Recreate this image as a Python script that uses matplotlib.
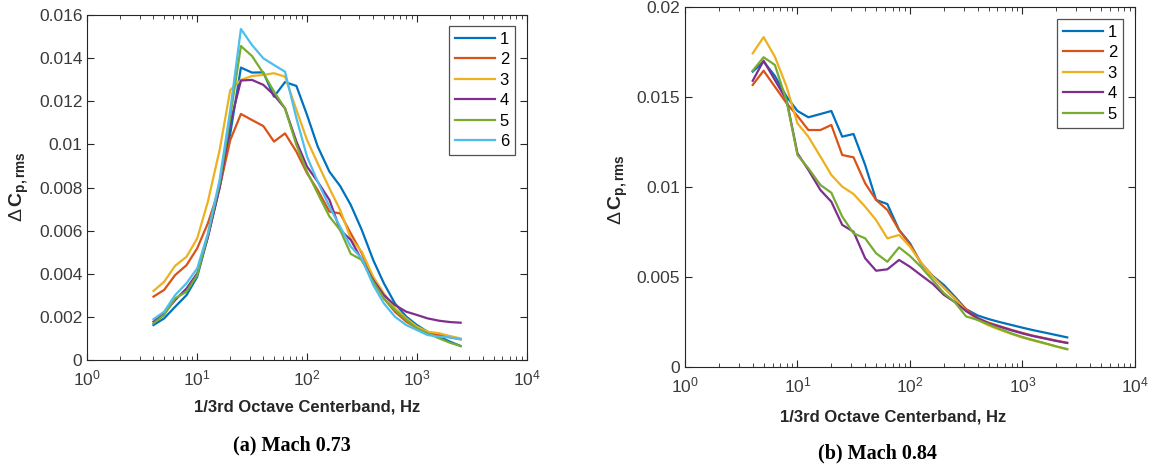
import matplotlib
matplotlib.use("Agg")
import matplotlib.pyplot as plt
import numpy as np
from matplotlib.ticker import LogLocator, NullFormatter, FixedLocator

plt.rcParams['font.family'] = ['Liberation Sans', 'DejaVu Sans']
plt.rcParams['mathtext.fontset'] = 'custom'
plt.rcParams['mathtext.rm'] = 'Liberation Sans'
plt.rcParams['mathtext.bf'] = 'Liberation Sans:bold'
plt.rcParams['mathtext.it'] = 'Liberation Sans:italic'
plt.rcParams['mathtext.default'] = 'regular'

freq = [4, 5, 6.3, 8, 10, 12.5, 16, 20, 25, 31.5, 40, 50, 63, 80, 100, 125, 160,
        200, 250, 315, 400, 500, 630, 800, 1000, 1250, 1600, 2000, 2500]

# (a) Mach 0.73
a1 = [0.00162, 0.00193, 0.00247, 0.00301, 0.00386, 0.0057, 0.0080, 0.0105, 0.01356, 0.01333,
      0.01334, 0.01221, 0.01289, 0.01271, 0.01136, 0.0099, 0.00873, 0.00807, 0.00719, 0.00603,
      0.00464, 0.00356, 0.00263, 0.00201, 0.00162, 0.00131, 0.00108, 0.00085, 0.00065]
a2 = [0.00294, 0.00325, 0.00394, 0.0044, 0.00518, 0.00634, 0.0080, 0.0102, 0.01141, 0.01113,
      0.01085, 0.01013, 0.01051, 0.00966, 0.00866, 0.00788, 0.00688, 0.0068, 0.00587, 0.00495,
      0.00371, 0.00286, 0.00224, 0.00178, 0.00147, 0.00124, 0.00116, 0.00105, 0.00096]
a3 = [0.0032, 0.00363, 0.00437, 0.00479, 0.00564, 0.00734, 0.00974, 0.01252, 0.01299, 0.01317,
      0.01322, 0.0133, 0.01314, 0.0116, 0.0102, 0.00912, 0.00796, 0.00696, 0.00564, 0.00502,
      0.00386, 0.00309, 0.0024, 0.00193, 0.00155, 0.00131, 0.00124, 0.00111, 0.0010]
a4 = [0.00178, 0.00216, 0.00278, 0.00332, 0.00402, 0.0057, 0.0080, 0.01098, 0.01296, 0.01299,
      0.01276, 0.01229, 0.01167, 0.01013, 0.00897, 0.00827, 0.00742, 0.00603, 0.00557, 0.00464,
      0.00371, 0.00301, 0.00255, 0.00224, 0.00209, 0.00193, 0.00182, 0.00176, 0.00173]
a5 = [0.0017, 0.00209, 0.00286, 0.00317, 0.00394, 0.0058, 0.0082, 0.01129, 0.01456, 0.0141,
      0.0133, 0.01245, 0.01167, 0.00997, 0.00873, 0.00773, 0.00665, 0.00603, 0.00492, 0.00464,
      0.00363, 0.00286, 0.00232, 0.00186, 0.00147, 0.00124, 0.0010, 0.0008, 0.00065]
a6 = [0.00189, 0.00224, 0.00301, 0.00356, 0.00425, 0.00587, 0.00835, 0.0116, 0.01535, 0.01461,
      0.01399, 0.01368, 0.01337, 0.01121, 0.00943, 0.00827, 0.00711, 0.00618, 0.00526, 0.00471,
      0.00348, 0.00263, 0.00201, 0.00162, 0.00139, 0.00116, 0.00108, 0.00105, 0.00096]

# (b) Mach 0.84
b1 = [0.01642, 0.01698, 0.01618, 0.01503, 0.01423, 0.01388, 0.01406, 0.01423, 0.0128, 0.01295,
      0.01122, 0.00928, 0.00905, 0.00761, 0.00687, 0.00575, 0.00504, 0.00455, 0.0039, 0.0032,
      0.00285, 0.00265, 0.00248, 0.00232, 0.00217, 0.00203, 0.00189, 0.00176, 0.00163]
b2 = [0.01568, 0.01647, 0.01558, 0.01466, 0.01395, 0.01317, 0.01317, 0.01345, 0.01178, 0.01165,
      0.0102, 0.00928, 0.00872, 0.0076, 0.0068, 0.0058, 0.0050, 0.0044, 0.0038, 0.0032,
      0.0027, 0.00245, 0.00225, 0.00205, 0.00188, 0.00172, 0.00158, 0.00145, 0.00133]
b3 = [0.01744, 0.01834, 0.01725, 0.01558, 0.01354, 0.0128, 0.01169, 0.01067, 0.01002, 0.00961,
      0.0089, 0.00816, 0.00714, 0.00733, 0.00668, 0.0058, 0.0050, 0.0044, 0.0038, 0.0031,
      0.0026, 0.0023, 0.00205, 0.00182, 0.00162, 0.00145, 0.00128, 0.00112, 0.00098]
b4 = [0.01591, 0.01703, 0.01595, 0.01484, 0.01187, 0.01095, 0.00983, 0.00918, 0.00789, 0.00751,
      0.00603, 0.00534, 0.00542, 0.00594, 0.00556, 0.0051, 0.0046, 0.0040, 0.0036, 0.0031,
      0.0027, 0.0024, 0.00222, 0.00202, 0.00185, 0.0017, 0.00156, 0.00143, 0.00132]
b5 = [0.01647, 0.01722, 0.01679, 0.0148, 0.01178, 0.01104, 0.01011, 0.00968, 0.00835, 0.00742,
      0.00714, 0.00631, 0.00584, 0.00664, 0.00616, 0.00556, 0.0048, 0.0041, 0.0036, 0.0028,
      0.0026, 0.00235, 0.0021, 0.00185, 0.00165, 0.00148, 0.0013, 0.00113, 0.00097]

series_a = [a1, a2, a3, a4, a5, a6]
series_b = [b1, b2, b3, b4, b5]
labels_a = ['1', '2', '3', '4', '5', '6']
labels_b = ['1', '2', '3', '4', '5']
yticks_a = [0, 0.002, 0.004, 0.006, 0.008, 0.01, 0.012, 0.014, 0.016]
yticks_b = [0, 0.005, 0.01, 0.015, 0.02]
yticklabels_a = ['0', '0.002', '0.004', '0.006', '0.008', '0.01', '0.012', '0.014', '0.016']
yticklabels_b = ['0', '0.005', '0.01', '0.015', '0.02']

colors = ['#0072BD', '#D95319', '#EDB120', '#7E2F8E', '#77AC30', '#4DBEEE']
axcol = '#262626'
tickcol = '#3a3a3a'

fig = plt.figure(figsize=(11.6, 4.67), dpi=100)
axA = fig.add_axes([0.0753, 0.2291, 0.3788, 0.7388])
axB = fig.add_axes([0.5905, 0.2148, 0.3879, 0.7696])


def style(ax, series, labels, yticks, yticklabels, ylim):
    for s, lab, c in zip(series, labels, colors):
        ax.plot(freq, s, color=c, lw=1.6, label=lab)
    ax.set_xscale('log')
    ax.set_xlim(1, 1e4)
    ax.set_ylim(*ylim)
    ax.set_yticks(yticks)
    ax.set_yticklabels(yticklabels)
    ax.xaxis.set_major_locator(FixedLocator([1, 10, 100, 1000, 10000]))
    ax.xaxis.set_minor_locator(LogLocator(base=10, subs=np.arange(2, 10), numticks=20))
    ax.xaxis.set_minor_formatter(NullFormatter())
    ax.tick_params(which='both', direction='in', top=True, right=True, colors=axcol,
                   labelcolor=tickcol, labelsize=12.5)
    ax.tick_params(which='major', length=5, width=0.8)
    ax.tick_params(which='minor', length=3, width=0.6)
    ax.tick_params(axis='x', pad=6)
    for sp in ax.spines.values():
        sp.set_color(axcol)
        sp.set_linewidth(0.8)
    leg = ax.legend(loc='upper right', fontsize=12, frameon=True, fancybox=False,
                    edgecolor=axcol, handlelength=2.4, handletextpad=0.3,
                    labelspacing=0.33, borderpad=0.35, borderaxespad=0.0)
    leg.get_frame().set_linewidth(0.9)
    return leg


leA = style(axA, series_a, labels_a, yticks_a, yticklabels_a, (0, 0.016))
leB = style(axB, series_b, labels_b, yticks_b, yticklabels_b, (0, 0.02))
leA.set_bbox_to_anchor((515 / 1160, 1 - 26 / 467), transform=fig.transFigure)
leB.set_bbox_to_anchor((1123 / 1160, 1 - 19 / 467), transform=fig.transFigure)

ylab = r'$\Delta\,\mathbf{C_{p,rms}}$'
fig.text(19 / 1160, 1 - 187 / 467, ylab, rotation=90, ha='center', va='center',
         fontsize=14, color=axcol)
fig.text(618 / 1160, 1 - 190 / 467, ylab, rotation=90, ha='center', va='center',
         fontsize=14, color=axcol)

xlab = '1/3rd Octave Centerband, Hz'
fig.text(307 / 1160, 1 - 407 / 467, xlab, ha='center', va='center', fontsize=12,
         fontweight='bold', color=axcol)
fig.text(893 / 1160, 1 - 417 / 467, xlab, ha='center', va='center', fontsize=12,
         fontweight='bold', color=axcol)

fig.text(292 / 1160, 1 - 445 / 467, '(a) Mach 0.73', ha='center', va='center',
         fontsize=14.5, fontweight='bold', family='Liberation Serif', color='black')
fig.text(877 / 1160, 1 - 453 / 467, '(b) Mach 0.84', ha='center', va='center',
         fontsize=14.5, fontweight='bold', family='Liberation Serif', color='black')

fig.savefig('out.png', dpi=100)
